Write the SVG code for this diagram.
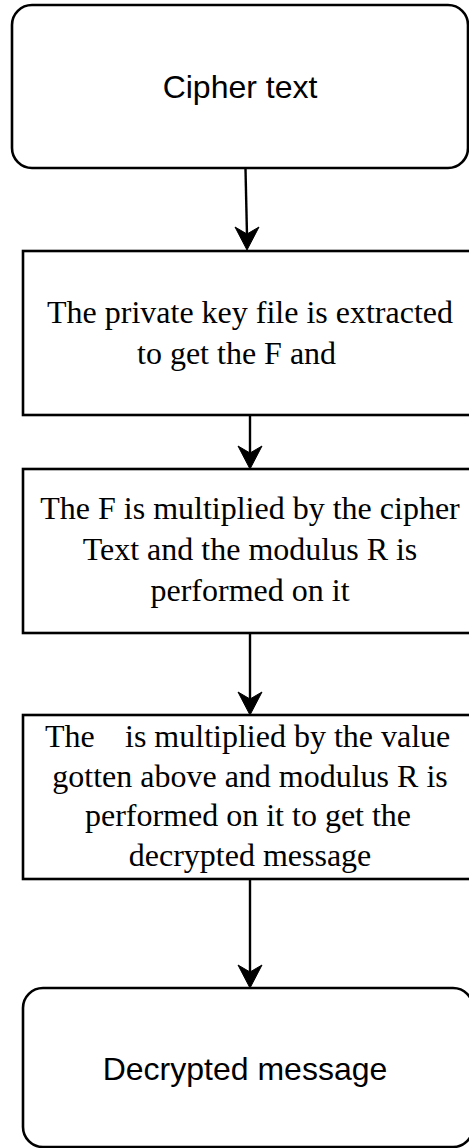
<svg xmlns="http://www.w3.org/2000/svg" width="469" height="1148" viewBox="0 0 469 1148">
  <style>
    .box { fill: #ffffff; stroke: #000000; stroke-width: 2.6; }
    .sans { font-family: "Liberation Sans", Arial, Helvetica, sans-serif; font-size: 32px; fill: #000000; }
    .serif { font-family: "Liberation Serif", "Times New Roman", Times, serif; font-size: 32px; fill: #000000; }
    .mid { text-anchor: middle; }
    .edge { fill: none; stroke: #000000; stroke-width: 2.4; }
    .head { fill: #000000; stroke: #000000; stroke-width: 1; stroke-linejoin: miter; }
  </style>
  <rect x="0" y="0" width="469" height="1148" fill="#ffffff"/>

  <g id="connectors">
    <line class="edge" x1="245.5" y1="169" x2="247" y2="236"/>
    <path class="head" d="M247,250 L235,227 L247,234 L259,227 Z"/>

    <line class="edge" x1="250" y1="415" x2="250" y2="455"/>
    <path class="head" d="M250,469 L238,446 L250,453 L262,446 Z"/>

    <line class="edge" x1="250" y1="633" x2="250" y2="701"/>
    <path class="head" d="M250,715 L238,692 L250,699 L262,692 Z"/>

    <line class="edge" x1="250" y1="879" x2="250" y2="974"/>
    <path class="head" d="M250,988 L238,965 L250,972 L262,965 Z"/>
  </g>

  <g id="cipher-text">
    <rect class="box" x="12" y="5" width="456" height="163" rx="20" ry="20"/>
    <text class="sans mid" x="240" y="98">Cipher text</text>
  </g>

  <g id="extract-key">
    <rect class="box" x="23" y="251" width="456" height="164"/>
    <text class="serif mid" x="250" y="323">The private key file is extracted</text>
    <text class="serif" x="137" y="364">to get the F and</text>
  </g>

  <g id="multiply-cipher">
    <rect class="box" x="23" y="469" width="456" height="164"/>
    <text class="serif mid" x="250" y="519">The F is multiplied by the cipher</text>
    <text class="serif mid" x="250" y="560">Text and the modulus R is</text>
    <text class="serif mid" x="250" y="601">performed on it</text>
  </g>

  <g id="multiply-value">
    <rect class="box" x="23" y="715" width="456" height="164"/>
    <text class="serif"><tspan x="45" y="747">The</tspan><tspan x="125" y="747">is multiplied by the value</tspan></text>
    <text class="serif mid" x="250" y="787">gotten above and modulus R is</text>
    <text class="serif mid" x="248" y="826">performed on it to get the</text>
    <text class="serif mid" x="250" y="866">decrypted message</text>
  </g>

  <g id="decrypted-message">
    <rect class="box" x="23" y="988" width="450" height="159" rx="20" ry="20"/>
    <text class="sans mid" x="245" y="1080">Decrypted message</text>
  </g>
</svg>
